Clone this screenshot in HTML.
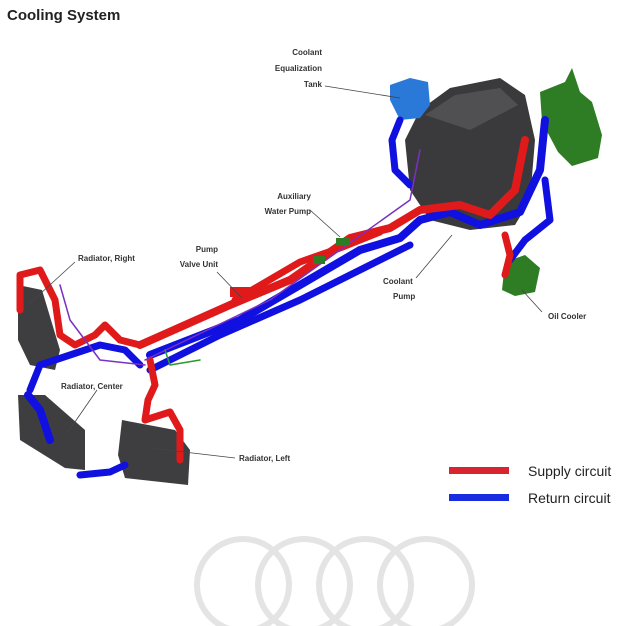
<!DOCTYPE html>
<html><head><meta charset="utf-8"><style>
html,body{margin:0;padding:0;background:#fff;}
svg{display:block;}
text{font-family:"Liberation Sans",sans-serif;}
.l{font-size:8px;font-weight:bold;fill:#333;}
</style></head><body>
<svg width="626" height="626" viewBox="0 0 626 626" xmlns="http://www.w3.org/2000/svg">
<rect width="626" height="626" fill="#fff"/>
<text x="7" y="20" font-size="15" font-weight="bold" fill="#222">Cooling System</text>

<g fill="none" stroke="#e4e4e4" stroke-width="6">
<circle cx="243" cy="585" r="46"/><circle cx="304" cy="585" r="46"/>
<circle cx="365" cy="585" r="46"/><circle cx="426" cy="585" r="46"/>
</g>

<polygon points="420,110 450,88 500,78 525,95 535,140 530,200 515,225 470,230 430,220 410,190 405,140" fill="#3a3a3c"/>
<polygon points="425,115 455,95 500,88 518,105 470,130" fill="#505052"/>
<polygon points="540,92 565,82 572,68 580,92 592,102 602,135 598,158 572,166 558,152 542,122" fill="#2e7d25"/>
<polygon points="390,85 410,78 428,82 430,105 420,118 400,120 390,100" fill="#2a78d8"/>
<polygon points="505,262 525,255 540,268 535,292 515,296 502,290" fill="#2e7d25"/>

<polygon points="18,285 42,290 60,350 55,370 30,365 18,340" fill="#3e3e40"/>
<polygon points="18,395 45,395 85,430 85,470 65,468 20,440" fill="#3e3e40"/>
<polygon points="122,420 175,430 190,450 188,485 125,478 118,455" fill="#3e3e40"/>

<g fill="none" stroke-linecap="round" stroke-linejoin="round">
<path d="M150,355 L240,320 L300,285 L360,250 L400,238 L420,220 L450,212 L480,225 L520,212 L540,170 L545,120" stroke="#1010e0" stroke-width="8"/>
<path d="M140,345 L230,305 L290,280 L350,238 L390,228 L420,210 L460,205 L490,215 L515,190 L525,140" stroke="#e01a1a" stroke-width="8"/>
<path d="M150,370 L220,335 L300,300 L370,265 L410,245" stroke="#1010e0" stroke-width="7"/>
<path d="M235,300 L300,262 L340,248 L380,232" stroke="#e01a1a" stroke-width="7"/>
<path d="M20,310 L20,275 L40,270 L55,300 L60,335 L75,345 L95,335 L105,325 L120,340 L140,345" stroke="#e01a1a" stroke-width="7"/>
<path d="M30,390 L40,365 L70,355 L100,345 L125,350 L140,365" stroke="#1010e0" stroke-width="7"/>
<path d="M28,395 L40,410 L50,440" stroke="#1010e0" stroke-width="8"/>
<path d="M80,475 L110,472 L125,465" stroke="#1010e0" stroke-width="7"/>
<path d="M150,360 L155,385 L148,400 L145,420 L170,412 L180,430 L180,460" stroke="#e01a1a" stroke-width="7"/>
<path d="M400,120 L392,140 L395,170 L410,185" stroke="#1010e0" stroke-width="7"/>
<path d="M545,180 L550,220 L525,240 L510,260" stroke="#1010e0" stroke-width="7"/>
<path d="M505,235 L510,255 L505,275" stroke="#e01a1a" stroke-width="7"/>
<path d="M145,360 L270,300 L410,200 L420,150" stroke="#7a30c0" stroke-width="1.5"/>
<path d="M60,285 L70,320 L100,360 L145,365" stroke="#7a30c0" stroke-width="1.5"/>
<path d="M165,350 L170,365 L200,360" stroke="#2a9a2a" stroke-width="1.5"/>
</g>
<rect x="313" y="256" width="12" height="8" fill="#2e7d25"/>
<rect x="336" y="238" width="14" height="8" fill="#2e7d25"/>
<rect x="230" y="287" width="20" height="10" fill="#e01a1a"/>

<g stroke="#444" stroke-width="0.8">
<line x1="325" y1="86" x2="400" y2="98"/>
<line x1="310" y1="210" x2="340" y2="237"/>
<line x1="217" y1="272" x2="242" y2="298"/>
<line x1="75" y1="262" x2="28" y2="305"/>
<line x1="97" y1="390" x2="68" y2="432"/>
<line x1="150" y1="448" x2="235" y2="458"/>
<line x1="416" y1="278" x2="452" y2="235"/>
<line x1="542" y1="312" x2="522" y2="290"/>
</g>
<text class="l" x="322" y="55" text-anchor="end">Coolant</text>
<text class="l" x="322" y="71" text-anchor="end">Equalization</text>
<text class="l" x="322" y="87" text-anchor="end">Tank</text>
<text class="l" x="311" y="199" text-anchor="end">Auxiliary</text>
<text class="l" x="311" y="214" text-anchor="end">Water Pump</text>
<text class="l" x="218" y="252" text-anchor="end">Pump</text>
<text class="l" x="218" y="267" text-anchor="end">Valve Unit</text>
<text class="l" x="78" y="261">Radiator, Right</text>
<text class="l" x="61" y="389">Radiator, Center</text>
<text class="l" x="239" y="461">Radiator, Left</text>
<text class="l" x="383" y="284">Coolant</text>
<text class="l" x="393" y="299">Pump</text>
<text class="l" x="548" y="319">Oil Cooler</text>

<rect x="449" y="467" width="60" height="7" fill="#d8242e"/>
<rect x="449" y="494" width="60" height="7" fill="#1a2ce0"/>
<text x="528" y="476" font-size="14" fill="#222">Supply circuit</text>
<text x="528" y="503" font-size="14" fill="#222">Return circuit</text>
</svg>
</body></html>
